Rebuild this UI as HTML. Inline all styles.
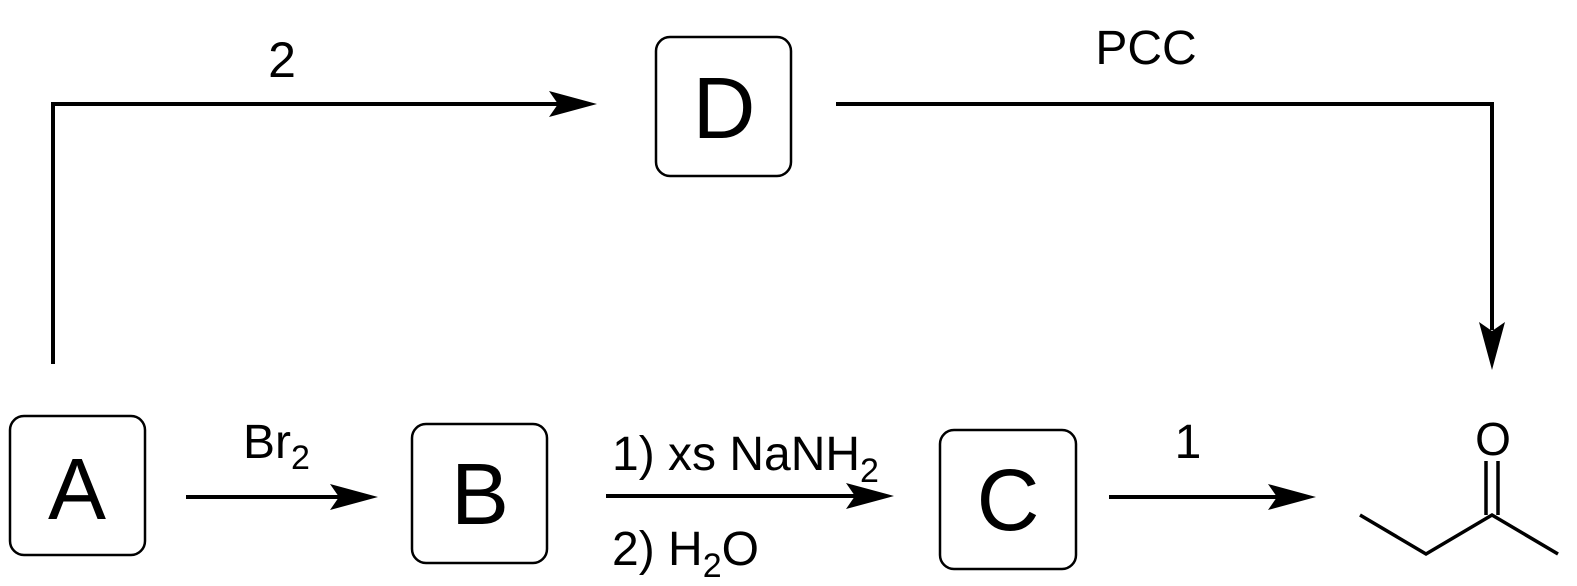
<!DOCTYPE html>
<html><head><style>
html,body{margin:0;padding:0;background:#fff;width:1577px;height:586px;overflow:hidden}
text{font-family:"Liberation Sans",Arial,sans-serif;fill:#000}
</style></head><body>
<svg width="1577" height="586" viewBox="0 0 1577 586" xmlns="http://www.w3.org/2000/svg">
<g fill="none" stroke="#000" stroke-width="2.5">
<rect x="10" y="416" width="135" height="139" rx="14"/>
<rect x="412" y="424" width="135" height="139" rx="14"/>
<rect x="656" y="37" width="135" height="139" rx="14"/>
<rect x="940" y="430" width="136" height="139" rx="14"/>
</g>
<g fill="none" stroke="#000" stroke-width="4">
<polyline points="53,364 53,104 560,104"/>
<polyline points="836,104 1492,104 1492,330"/>
<line x1="186" y1="497" x2="340" y2="497"/>
<line x1="606" y1="496" x2="860" y2="496"/>
<line x1="1109" y1="497" x2="1280" y2="497"/>
<polyline points="1360,515 1426,554 1492,515 1558,554" stroke-width="3.5"/>
<line x1="1486" y1="461" x2="1486" y2="515" stroke-width="3.5"/>
<line x1="1498" y1="461" x2="1498" y2="515" stroke-width="3.5"/>
</g>
<g fill="#000">
<polygon points="597,104 549,91 558,104 549,117"/>
<polygon points="378,497 330,484 339,497 330,510"/>
<polygon points="894,496 846,483 855,496 846,509"/>
<polygon points="1316,497 1268,484 1277,497 1268,510"/>
<polygon points="1492,370 1479,322 1492,331 1505,322"/>
</g>
<text x="77" y="519" font-size="87" text-anchor="middle">A</text>
<text x="480" y="524" font-size="87" text-anchor="middle">B</text>
<text x="724" y="138" font-size="87" text-anchor="middle">D</text>
<text x="1008" y="530" font-size="87" text-anchor="middle">C</text>
<text x="243" y="458" font-size="48">Br<tspan font-size="34" dy="11">2</tspan></text>
<text x="612" y="470" font-size="48">1) xs NaNH<tspan font-size="34" dy="12">2</tspan></text>
<text x="612" y="565" font-size="48">2) H<tspan font-size="34" dy="12">2</tspan><tspan dy="-12">O</tspan></text>
<text x="282" y="77" font-size="50" text-anchor="middle">2</text>
<text x="1146" y="64" font-size="48" text-anchor="middle">PCC</text>
<text x="1188" y="458" font-size="48" text-anchor="middle">1</text>
<text x="1493" y="455" font-size="46" text-anchor="middle">O</text>
</svg>
</body></html>
